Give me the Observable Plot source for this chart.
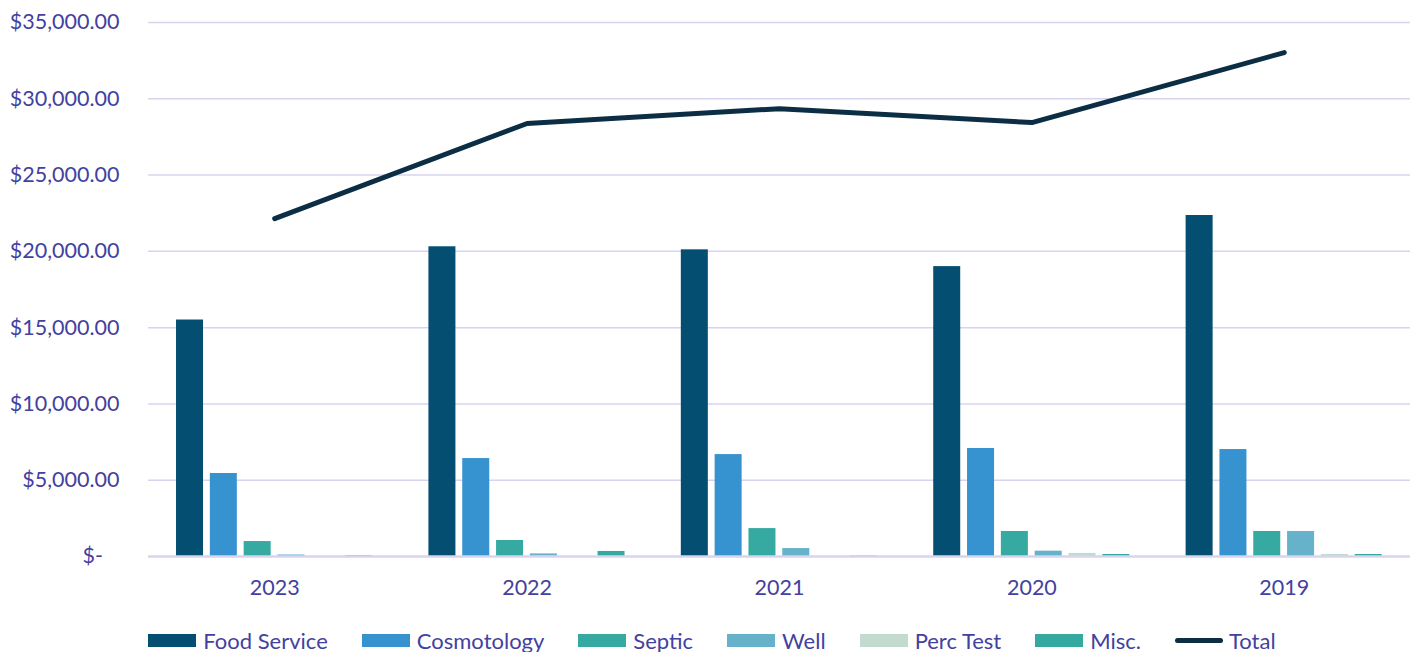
<!DOCTYPE html>
<html>
<head>
<meta charset="utf-8">
<script src="https://cdn.jsdelivr.net/npm/d3@7"></script>
<script src="https://cdn.jsdelivr.net/npm/@observablehq/plot@0.6"></script>
<style>
  html, body { margin: 0; padding: 0; background: #fff; }
  #chart svg { display: block; }
  #legend { display: flex; justify-content: center; align-items: center; gap: 0; margin-top: 16px; height: 24px;
    font-family: Lato, "Open Sans", sans-serif; font-size: 22px; color: #4341A0; }
  .item { display: flex; align-items: center; margin: 0 17px; }
  .sw { width: 48px; height: 13px; margin-right: 7px; }
  .ln { width: 48px; height: 5px; border-radius: 3px; margin-right: 6px; }
</style>
</head>
<body>
<div id="chart"></div>
<div id="legend"></div>
<script>
const years = ["2023", "2022", "2021", "2020", "2019"];
const categories = ["Food Service", "Cosmotology", "Septic", "Well", "Perc Test", "Misc."];
const foodService = [15500, 20300, 20100, 19000, 22350];
const cosmotology = [5440, 6420, 6680, 7080, 7010];
const septic = [980, 1050, 1830, 1640, 1640];
const well = [100, 170, 520, 350, 1640];
const percTest = [0, 0, 0, 200, 130];
const misc = [50, 330, 30, 130, 130];
const total = [22150, 28380, 29350, 28440, 33030];
const yTicks = [0, 5000, 10000, 15000, 20000, 25000, 30000, 35000];

const colors = ["#044E71", "#3793D0", "#36AAA0", "#66B2CA", "#C2DBCE", "#34A99F"];
const totalColor = "#0B2E44";
const textColor = "#4341A0";
const gridColor = "#D8D4F0";

const seriesValues = [foodService, cosmotology, septic, well, percTest, misc];
const rows = years.flatMap((yr, gi) =>
  seriesValues.map((vals, ci) => ({year: yr, gi, ci, cat: categories[ci], value: vals[gi]})));
const totals = years.map((yr, gi) => ({year: yr, gi, value: total[gi]}));

// layout within each year group (fractions of a group's width)
const groupPad = 0.111, barStep = 0.134, barWidth = 0.107;

const fmt = d => d === 0 ? "$-\u00a0\u00a0\u00a0" : "$" + d3.format(",.2f")(d);

const chart = Plot.plot({
  width: 1424,
  height: 612,
  marginLeft: 148,
  marginRight: 14,
  marginTop: 22,
  marginBottom: 56,
  style: {fontFamily: "Lato, 'Open Sans', sans-serif", fontSize: "21.5px", color: textColor, background: "#fff", overflow: "visible"},
  x: {domain: [0, 5], ticks: years.map((y, i) => i + 0.5), tickFormat: v => years[Math.floor(v)], tickSize: 0, tickPadding: 23, label: null, line: false},
  y: {domain: [0, 35000], ticks: yTicks, tickFormat: fmt, tickSize: 0, tickPadding: 29, label: null},
  color: {domain: categories, range: colors},
  marks: [
    Plot.ruleY(yTicks.slice(1), {stroke: gridColor, strokeWidth: 1.5}),
    Plot.rectY(rows, {
      x1: d => d.gi + groupPad + d.ci * barStep,
      x2: d => d.gi + groupPad + d.ci * barStep + barWidth,
      y: "value",
      fill: "cat"
    }),
    Plot.ruleY([0], {stroke: gridColor, strokeWidth: 2.5}),
    Plot.line(totals, {x: d => d.gi + 0.5, y: "value", stroke: totalColor, strokeWidth: 5, strokeLinejoin: "round"})
  ]
});
document.getElementById("chart").appendChild(chart);

const legend = document.getElementById("legend");
categories.forEach((c, i) => {
  const it = document.createElement("div");
  it.className = "item";
  it.innerHTML = `<span class="sw" style="background:${colors[i]}"></span><span>${c}</span>`;
  legend.appendChild(it);
});
const t = document.createElement("div");
t.className = "item";
t.innerHTML = `<span class="ln" style="background:${totalColor}"></span><span>Total</span>`;
legend.appendChild(t);
</script>
</body>
</html>
